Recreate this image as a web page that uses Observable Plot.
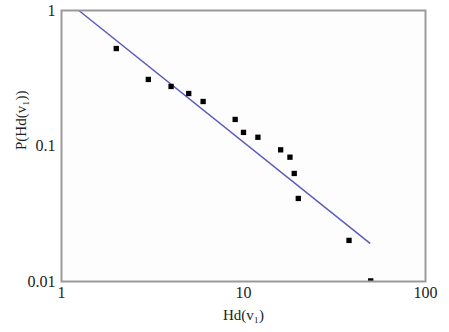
<!DOCTYPE html>
<html>
<head>
<meta charset="utf-8">
<script src="https://cdn.jsdelivr.net/npm/d3@7"></script>
<script src="https://cdn.jsdelivr.net/npm/@observablehq/plot@0.6"></script>
<style>
  html, body { margin: 0; padding: 0; background: #fff; }
  svg { display: block; }
</style>
</head>
<body>
<div id="chart"></div>
<script>
const hd = [2, 3, 4, 5, 6, 9, 10, 12, 16, 18, 19, 20, 38, 50];
const prob = [0.524, 0.31, 0.275, 0.244, 0.213, 0.157, 0.126, 0.116, 0.0937, 0.0827, 0.0627, 0.041, 0.0201, 0.0101];
const fitX = [1.245, 49.4];
const fitY = [1, 0.0192];
const xTicks = [1, 10, 100];
const yTicks = [0.01, 0.1, 1];
const xTickLabels = ["1", "10", "100"];
const yTickLabels = ["0.01", "0.1", "1"];
const xTitle = "Hd(v\u2081)";
const yTitle = "P(Hd(v\u2081))";

const points = hd.map((x, i) => ({x, y: prob[i]}));
const fit = fitX.map((x, i) => ({x, y: fitY[i]}));

const chart = Plot.plot({
  width: 449,
  height: 332,
  marginLeft: 61,
  marginRight: 24,
  marginTop: 10,
  marginBottom: 51,
  style: {fontFamily: "'Liberation Serif', 'Times New Roman', serif", fontSize: "16px", color: "#222", background: "#fff"},
  x: {type: "log", domain: [1, 100]},
  y: {type: "log", domain: [0.01, 1]},
  marks: [
    Plot.frame({fill: "#fdfdfd"}),
    Plot.line(fit, {x: "x", y: "y", stroke: "#5b5bbb", strokeWidth: 1.5}),
    Plot.dot(points, {x: "x", y: "y", symbol: "square", r: 3, fill: "#000", stroke: "none", clip: true}),
    Plot.frame({stroke: "#9a9a9a", strokeWidth: 2}),
    Plot.axisX({ticks: xTicks, tickSize: 0, tickPadding: 5, tickFormat: (d) => xTickLabels[xTicks.indexOf(d)], label: null, fontSize: 16}),
    Plot.axisY({ticks: yTicks, tickSize: 0, tickPadding: 6, tickFormat: (d) => yTickLabels[yTicks.findIndex(t => Math.abs(t - d) < 1e-9)], label: null, fontSize: 16}),
    Plot.text([xTitle], {text: (d) => d, frameAnchor: "bottom", dy: 38, fontSize: 15}),
    Plot.text([yTitle], {text: (d) => d, frameAnchor: "left", rotate: -90, dx: -40, dy: 4, fontSize: 15})
  ]
});
document.getElementById("chart").appendChild(chart);
</script>
</body>
</html>
